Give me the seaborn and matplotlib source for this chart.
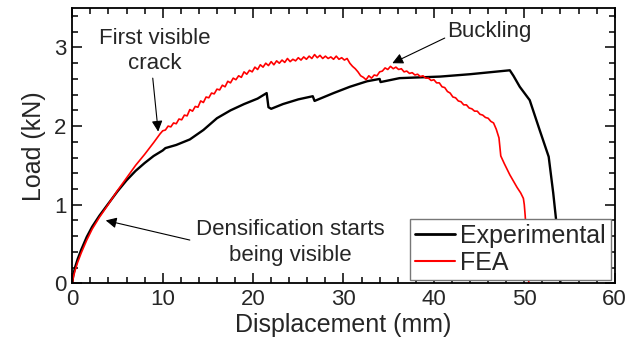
import matplotlib
matplotlib.use("Agg")
import matplotlib.pyplot as plt
import seaborn as sns
import pandas as pd
from matplotlib.ticker import MultipleLocator
from matplotlib.lines import Line2D

# Experimental curve (displacement mm, load kN)
exp_x = [0, 0.1, 0.3, 0.6, 1.0, 1.6, 2.2, 3.0, 3.9, 5.0, 6.0, 7.0, 8.0, 9.0, 10.0, 10.3,
         11.5, 13.0, 14.5, 16.0, 17.5, 19.0, 20.5, 21.5, 21.7, 22.0, 23.3, 25.0, 26.6,
         26.8, 28.9, 30.7, 32.6, 34.0, 34.1, 36.2, 40.7, 44.0, 48.4, 48.8, 49.5, 50.6,
         51.7, 52.7, 53.2, 53.6, 53.9, 54.0]
exp_y = [0, 0.1, 0.2, 0.31, 0.43, 0.59, 0.72, 0.86, 1.0, 1.17, 1.31, 1.43, 1.53, 1.62, 1.69,
         1.72, 1.76, 1.83, 1.95, 2.1, 2.2, 2.28, 2.35, 2.42, 2.24, 2.22, 2.28, 2.34, 2.38,
         2.32, 2.42, 2.5, 2.57, 2.6, 2.56, 2.61, 2.63, 2.66, 2.71, 2.64, 2.5, 2.33,
         1.95, 1.61, 1.15, 0.72, 0.2, 0.0]

# FEA curve
fea_x = [0, 0.1, 0.3, 0.6, 1.0, 1.6, 2.2, 3.0, 3.9, 5.0, 6.0, 7.0, 8.0, 9.0, 9.7,
         10.0, 10.3, 10.6, 10.9, 11.2, 11.5, 11.8, 12.1, 12.4, 12.7, 13.0, 13.3, 13.6,
         13.9, 14.2, 14.5, 14.8, 15.1, 15.4, 15.7, 16.0, 16.3, 16.6, 16.9, 17.2, 17.5,
         17.8, 18.1, 18.4, 18.7, 19.0, 19.3, 19.6, 19.9, 20.2, 20.5, 20.8, 21.1, 21.4,
         21.7, 22.0, 22.3, 22.6, 22.9, 23.2, 23.5, 23.8, 24.1, 24.4, 24.7, 25.0, 25.3,
         25.6, 25.9, 26.2, 26.5, 26.8, 27.1, 27.4, 27.7, 28.0, 28.3, 28.6, 28.9, 29.2,
         29.5, 29.8, 30.1, 30.4, 30.7, 31.0, 31.3, 31.6, 31.9, 32.2, 32.5, 32.8, 33.1,
         33.4, 33.7, 34.0, 34.3, 34.6, 34.9, 35.2, 35.5, 35.8, 36.1, 36.4, 36.7, 37.0,
         37.3, 37.6, 37.9, 38.2, 38.5, 38.8, 39.1, 39.4, 39.7, 40.0, 40.3, 40.6, 40.9,
         41.2, 41.5, 41.8, 42.1, 42.4, 42.7, 43.0, 43.3, 43.6, 43.9, 44.2, 44.5, 44.8,
         45.1, 45.4, 45.7, 46.0, 46.3, 46.6, 46.9, 47.2, 47.4, 47.8, 48.1, 48.4, 48.8,
         49.2, 49.6, 49.9, 50.0, 50.1, 50.3, 50.5]
fea_y = [0, 0.07, 0.16, 0.27, 0.39, 0.55, 0.69, 0.84, 0.99, 1.18, 1.34, 1.5, 1.64, 1.79, 1.9,
         1.94, 1.95, 2.00, 1.99, 2.04, 2.03, 2.09, 2.08, 2.14, 2.13, 2.21, 2.19, 2.25,
         2.24, 2.32, 2.30, 2.37, 2.36, 2.42, 2.41, 2.47, 2.46, 2.52, 2.50, 2.57, 2.55,
         2.61, 2.59, 2.64, 2.62, 2.69, 2.66, 2.71, 2.69, 2.75, 2.72, 2.78, 2.75, 2.80,
         2.77, 2.82, 2.78, 2.83, 2.80, 2.84, 2.81, 2.86, 2.82, 2.85, 2.83, 2.87, 2.84,
         2.88, 2.85, 2.89, 2.86, 2.91, 2.87, 2.90, 2.86, 2.89, 2.86, 2.88, 2.85, 2.89,
         2.85, 2.87, 2.84, 2.86, 2.80, 2.76, 2.73, 2.69, 2.64, 2.62, 2.59, 2.64, 2.61,
         2.65, 2.64, 2.69, 2.70, 2.74, 2.72, 2.76, 2.73, 2.75, 2.72, 2.73, 2.69, 2.70,
         2.67, 2.68, 2.65, 2.66, 2.63, 2.64, 2.61, 2.61, 2.58, 2.59, 2.55, 2.55, 2.50,
         2.49, 2.44, 2.42, 2.37, 2.36, 2.32, 2.31, 2.27, 2.27, 2.23, 2.22, 2.19, 2.19,
         2.15, 2.14, 2.11, 2.10, 2.06, 2.04, 1.96, 1.85, 1.62, 1.52, 1.45, 1.38, 1.30,
         1.22, 1.15, 1.08, 1.00, 0.86, 0.5, 0.0]

series_names = ["Experimental", "FEA"]
series_colors = ["black", "red"]

x_ticks = [0, 10, 20, 30, 40, 50, 60]
y_ticks = [0, 1, 2, 3]

sns.set_style("ticks")
plt.rcParams["font.family"] = ["Liberation Sans", "DejaVu Sans"]

df = pd.concat([
    pd.DataFrame({"x": exp_x, "y": exp_y, "series": series_names[0]}),
    pd.DataFrame({"x": fea_x, "y": fea_y, "series": series_names[1]}),
], ignore_index=True)

fig = plt.figure(figsize=(6.32, 3.5), dpi=100)
ax = fig.add_axes([0.1144, 0.1906, 0.8582, 0.786])

sns.lineplot(data=df, x="x", y="y", hue="series", palette=dict(zip(series_names, series_colors)),
             sort=False, estimator=None, ax=ax, legend=False)
for line, lw in zip(ax.get_lines(), [1.7, 1.2]):
    line.set_linewidth(lw)

ax.set_xlim(0, 60)
ax.set_ylim(0, 3.5)
ax.set_xticks(x_ticks)
ax.set_yticks(y_ticks)
ax.xaxis.set_minor_locator(MultipleLocator(2))
ax.yaxis.set_minor_locator(MultipleLocator(0.2))
ax.tick_params(which="both", direction="in", top=True, right=True, width=1.1, color="black")
ax.tick_params(which="major", length=7, labelsize=16, pad=4)
ax.tick_params(which="minor", length=4)
for sp in ax.spines.values():
    sp.set_linewidth(1.3)
    sp.set_color("black")

ax.set_xlabel("Displacement (mm)", fontsize=18, labelpad=2)
ax.set_ylabel("Load (kN)", fontsize=18, labelpad=6)

handles = [Line2D([], [], color=c, lw=lw) for c, lw in zip(series_colors, [2.0, 1.5])]
leg = ax.legend(handles, series_names, loc="lower right", fontsize=18, frameon=True,
                fancybox=False, edgecolor="#777777", borderpad=0.2, handlelength=1.6,
                handletextpad=0.2, labelspacing=0.1, borderaxespad=0.15, framealpha=1)
leg.get_frame().set_linewidth(1.0)

arrow = dict(arrowstyle="-|>", color="black", lw=0.8, mutation_scale=16, shrinkA=0, shrinkB=0)
ax.text(9.1, 2.95, "First visible\ncrack", ha="center", va="center", fontsize=16, linespacing=1.25)
ax.annotate("", xy=(9.5, 1.93), xytext=(8.9, 2.61), arrowprops=arrow)
ax.text(46.1, 3.2, "Buckling", ha="center", va="center", fontsize=16)
ax.annotate("", xy=(35.4, 2.8), xytext=(41.2, 3.12), arrowprops=arrow)
ax.text(24.1, 0.52, "Densification starts\nbeing visible", ha="center", va="center",
        fontsize=16, linespacing=1.3)
ax.annotate("", xy=(3.7, 0.8), xytext=(13.0, 0.55), arrowprops=arrow)

fig.savefig("out.png", dpi=100)
